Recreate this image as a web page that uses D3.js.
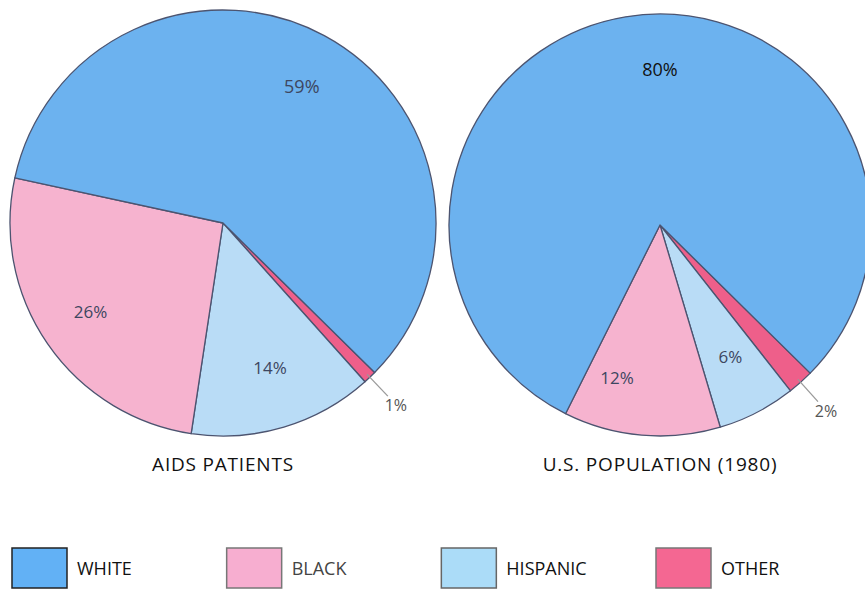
<!DOCTYPE html>
<html><head><meta charset="utf-8">
<script src="https://cdn.jsdelivr.net/npm/d3@7"></script>
<style>body{margin:0;background:#fff}svg{display:block}</style>
</head><body>
<svg id="c" width="865" height="589"></svg>
<script>
const categories = ["OTHER", "HISPANIC", "BLACK", "WHITE"];
const legendOrder = ["WHITE", "BLACK", "HISPANIC", "OTHER"];
const aidsValues = [1, 14, 26, 59];
const popValues = [2, 6, 12, 80];
const aidsLabels = ["1%", "14%", "26%", "59%"];
const popLabels = ["2%", "6%", "12%", "80%"];
const titles = ["AIDS PATIENTS", "U.S. POPULATION (1980)"];

const colors = {WHITE:"#6cb2ef", BLACK:"#f6b3cf", HISPANIC:"#b9dcf6", OTHER:"#ee5f8a"};
const legendColors = {WHITE:"#62b1f5", BLACK:"#f7aed0", HISPANIC:"#abdcf8", OTHER:"#f46792"};

const svg = d3.select("#c");
const font = "'Open Sans', sans-serif";
const deg = Math.PI / 180;
const start = 134.6 * deg;
const pie = d3.pie().sort(null).startAngle(start).endAngle(start + 2*Math.PI);

// label placement style: [angle in degrees, radius fraction]
const charts = [
  {cx:223, cy:223, r:213, values:aidsValues, labels:aidsLabels, title:titles[0],
   labelPos:{WHITE:[30,0.74], BLACK:[236,0.75], HISPANIC:[162,0.715]}},
  {cx:660, cy:225, r:211, values:popValues, labels:popLabels, title:titles[1],
   labelPos:{WHITE:[0,0.735], BLACK:[195.7,0.753], HISPANIC:[152,0.71]}}
];

charts.forEach((ch, ci) => {
  const g = svg.append("g").attr("transform", `translate(${ch.cx},${ch.cy})`);
  const arcs = pie(ch.values);
  const arc = d3.arc().innerRadius(0).outerRadius(ch.r);
  g.selectAll("path").data(arcs).join("path")
    .attr("d", arc)
    .attr("fill", (d,i) => colors[categories[i]])
    .attr("stroke", "#4c5470").attr("stroke-width", 1.3).attr("stroke-linejoin","round");

  arcs.forEach((d, i) => {
    const cat = categories[i];
    const mid = (d.startAngle + d.endAngle) / 2;
    if (cat === "OTHER") {
      const p1 = [Math.sin(mid)*(ch.r-4), -Math.cos(mid)*(ch.r-4)];
      const p2 = [Math.sin(mid)*(ch.r+26), -Math.cos(mid)*(ch.r+26)];
      g.append("line").attr("x1",p1[0]).attr("y1",p1[1]).attr("x2",p2[0]).attr("y2",p2[1])
        .attr("stroke","#9a9a9a").attr("stroke-width",1.3);
      g.append("text").attr("x", p2[0]+8).attr("y", p2[1]+15)
        .attr("text-anchor","middle").attr("font-family",font).attr("font-size",16)
        .attr("fill","#555").text(ch.labels[i]);
    } else {
      const [a, f] = ch.labelPos[cat];
      const x = Math.sin(a*deg)*ch.r*f, y = -Math.cos(a*deg)*ch.r*f;
      const isBig = cat === "WHITE";
      g.append("text").attr("x", x).attr("y", y).attr("dy","0.35em")
        .attr("text-anchor","middle").attr("font-family",font)
        .attr("font-size", isBig ? 18 : 17)
        .attr("fill", ci===1 && isBig ? "#111" : "#3d4660").text(ch.labels[i]);
    }
  });

  svg.append("text").attr("x", ch.cx).attr("y", 471).attr("text-anchor","middle")
    .attr("font-family",font).attr("font-size",19).attr("letter-spacing",0.8)
    .attr("fill","#111").text(ch.title);
});

const lx = d3.scalePoint().domain(legendOrder).range([12, 656]);
const lg = svg.append("g");
legendOrder.forEach(cat => {
  const x = lx(cat);
  lg.append("rect").attr("x", x).attr("y", 548).attr("width", 55).attr("height", 40)
    .attr("fill", legendColors[cat]).attr("stroke", cat==="HISPANIC" ? "#666" : (cat==="WHITE"?"#222":"#777")).attr("stroke-width",1.5);
  lg.append("text").attr("x", x + 65).attr("y", 575).attr("font-family",font).attr("font-size",18)
    .attr("fill", cat==="BLACK" ? "#444" : "#111").text(cat);
});
</script>
</body></html>
